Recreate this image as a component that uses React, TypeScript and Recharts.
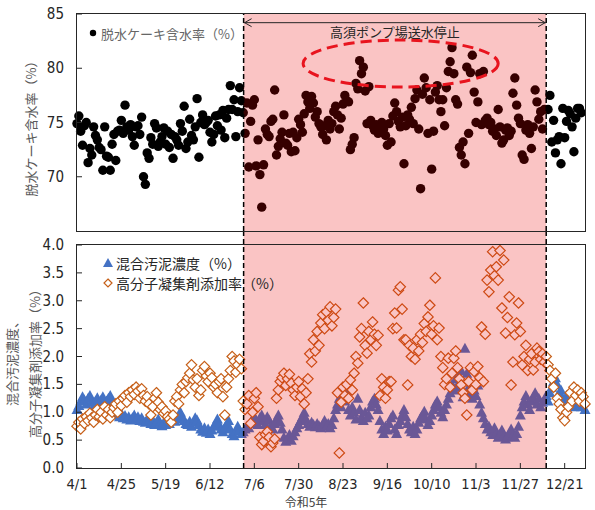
import React from 'react';
import {
  ScatterChart,
  Scatter,
  XAxis,
  YAxis,
  ReferenceArea,
  ReferenceLine,
  Legend,
} from 'recharts';

// x = days since 4/1 (令和5年)
const tickDays = [0, 24, 48, 72, 96, 120, 144, 168, 192, 216, 240, 264];
const tickLabels = ['4/1', '4/25', '5/19', '6/12', '7/6', '7/30', '8/23', '9/16', '10/10', '11/3', '11/27', '12/21'];
const dayDomain = [0, 275];

// 高須ポンプ場送水停止 (start / end day)
const stopPeriod = [90.2, 254];

const cakeDomain = [65, 85];
const cakeTicks = [65, 70, 75, 80, 85];
const sludgeDomain = [0, 4];
const sludgeTicks = [0, 0.5, 1, 1.5, 2, 2.5, 3, 3.5, 4];

const CAKE_NAME = '脱水ケーキ含水率（%）';
const SLUDGE_NAME = '混合汚泥濃度（%）';
const POLYMER_NAME = '高分子凝集剤添加率（%）';

// daily values, index = day, null = no record
const cakeMoisture: (number | null)[] = [
  74.9, 75.6, 74.2, 72.9, 74.7, 75.0, 71.3, 72.6, 72.0, 74.6,
  73.8, 73.4, 72.7, 72.5, 70.6, 74.6, 71.9, 71.8, 70.6, 73.0,
  73.9, 71.5, 74.2, 74.3, 75.2, 74.0, 76.6, 74.6, 74.3, 74.8,
  73.7, 72.9, 74.6, 74.7, 73.9, 75.5, 70.0, 69.3, 72.2, 71.7,
  73.6, 73.0, 74.9, 74.5, 72.8, 73.2, 73.7, 74.5, 73.0, 74.2,
  72.7, 73.9, 71.7, 73.7, 73.4, 72.9, 74.9, 74.2, 76.5, 72.6,
  73.2, 75.3, 73.8, 73.4, 74.6, 77.2, 71.8, 75.0, 75.7, 74.8,
  75.0, 75.2, 74.1, 73.2, 73.9, 75.6, 74.7, 75.7, 74.3, 76.1,
  73.6, 75.4, 76.2, 78.4, 76.2, 77.1, 73.7, 76.0, 78.2, 77.0,
  75.9, 74.0, 76.8, 70.9, 75.1, 76.6, 77.1, 71.0, 73.4, 70.2,
  67.2, 71.1, 74.4, 73.9, 73.7, 75.1, 75.3, 78.0, 72.0, 72.8,
  73.5, 74.1, 75.7, 73.1, 72.9, 74.0, 72.3, 74.1, 72.4, 73.6,
  75.3, 74.8, 74.1, 75.8, 77.5, 76.9, 76.3, 77.4, 76.8, 75.5,
  76.0, 74.9, 74.6, 73.9, 74.7, 73.4, 75.2, 74.4, 74.9, 76.0,
  76.5, 75.7, 74.4, 75.4, 76.7, 77.5, 77.0, 76.9, 72.5, 73.0,
  73.6, 78.6, 78.1, 80.7, 79.5, 80.1, 77.9, 74.9, 78.3, 75.2,
  74.7, 74.3, 74.8, 74.0, 74.6, 75.0, 74.4, 73.8, 72.9, 74.9,
  73.2, 75.6, 76.8, 76.0, 75.1, 74.6, 75.5, 71.2, 74.7, 75.7,
  75.3, 76.4, 74.9, 77.2, 78.0, 74.4, 68.9, 77.6, 79.1, 78.2,
  74.0, 77.1, 70.7, 74.2, 77.8, 78.4, 77.1, 76.0, 77.1, 74.7,
  78.2, 79.7, 80.6, 81.9, 79.5, 77.1, 76.7, 72.7, 72.0, 73.2,
  71.2, 80.1, 74.0, 79.6, 81.2, 77.8, 75.0, 76.9, 79.5, 74.8,
  79.7, 75.2, 75.4, 74.8, 75.0, 74.2, 74.4, 73.8, 76.2, 74.6,
  73.1, 73.4, 74.3, 74.5, 73.8, 74.2, 77.7, 79.1, 76.6, 75.4,
  74.9, 72.0, 71.6, 74.3, 74.8, 74.0, 72.6, 74.6, 78.0, 76.9,
  75.3, 76.0, 74.4, 76.2, null, 76.2, 77.5, 73.2, 75.2, 72.2,
  73.4, 73.7, 71.2, 76.3, 73.6, 75.1, 76.1, 75.8, 74.6, 72.3,
  75.4, 76.3, 76.3, 75.9,
];

const mixedSludge: (number | null)[] = [
  1.05, 1.12, 1.20, 1.28, 1.22, 1.15, 1.25, 1.30, 1.18, 1.10,
  1.20, 1.26, 1.15, 1.22, 1.28, 1.12, 1.20, 1.25, 1.30, 1.18,
  1.08, 1.00, 0.95, 0.92, 0.98, 0.90, 0.94, 0.88, 0.92, 0.86,
  0.90, 0.95, 0.88, 0.92, 0.85, 0.90, 0.84, 0.82, 0.88, 0.85,
  0.80, 0.86, 0.78, 0.82, 0.88, 0.80, 0.76, 0.82, 0.78, 0.84,
  0.80, 0.86, 0.90, 0.84, 0.88, 0.95, 1.00, 0.92, 0.85, 0.80,
  0.78, 0.84, 0.75, 0.82, 0.90, 0.86, 0.78, 0.70, 0.66, 0.72,
  0.64, 0.70, 0.62, 0.68, 0.75, 0.80, 0.88, 0.78, 0.70, 0.65,
  0.72, 0.78, 0.85, 0.70, 0.62, 0.58, 0.66, 0.75, 0.68, 0.62,
  0.65, 0.70, 0.75, 0.72, 0.80, 0.88, 0.92, 0.85, 0.78, 0.90,
  0.95, 0.85, 0.78, 0.92, 0.86, 0.75, 0.70, 0.80, 0.88, 0.95,
  0.82, 0.70, 0.55, 0.48, 0.52, 0.60, 0.50, 0.58, 0.65, 0.72,
  0.78, 0.85, 0.92, 1.00, 0.88, 0.80, 0.75, 0.82, 0.78, 0.74,
  0.80, 0.76, 0.72, 0.78, 0.85, 0.75, 0.80, 0.72, 0.78, 0.90,
  1.05, 1.15, 1.25, 1.10, 1.30, 1.20, 1.35, 1.05, 0.95, 1.10,
  1.00, 0.88, 1.25, 1.05, 0.92, 0.85, 1.00, 0.90, 0.95, 1.10,
  1.20, 1.25, 1.15, 1.05, 0.85, 0.70, 0.62, 0.75, 0.68, 0.80,
  0.90, 0.95, 0.70, 0.62, 0.78, 0.85, 0.95, 1.05, 0.92, 0.80,
  0.70, 0.65, 0.75, 0.62, 0.70, 0.82, 0.90, 0.95, 1.02, 0.88,
  0.78, 0.85, 0.95, 1.05, 1.15, 1.20, 1.10, 1.00, 0.92, 1.05,
  1.15, 1.25, 1.35, 1.50, 1.40, 1.60, 1.45, 1.55, 1.75, 1.28,
  2.15, 1.70, 1.45, 1.35, 1.25, 1.40, 1.30, 1.49, 1.15, 1.00,
  0.90, 0.80, 0.70, 0.75, 0.65, 0.60, 0.72, 0.62, 0.55, 0.60,
  0.68, 0.58, 0.52, 0.56, 0.62, 0.70, 0.58, 0.55, 0.62, 0.75,
  0.95, 1.10, 1.20, 1.30, 1.15, 1.05, 1.20, 1.28, 1.35, 1.15,
  1.25, 1.10, 1.18, 1.22, 1.30, 1.20, 1.35, 1.45, 1.55, 1.62,
  1.50, 1.35, 1.40, 1.25, 1.20, 1.30, 1.25, 1.15, 1.20, 1.10,
  1.20, 1.15, 1.25, 1.10, 1.18, 1.05,
];

const polymerDose: (number | null)[] = [
  0.75, 0.82, 0.70, 0.88, 0.80, 0.92, 0.85, 0.98, 0.90, 0.82,
  0.95, 1.05, 0.92, 1.00, 0.88, 1.10, 0.95, 1.05, 0.90, 1.00,
  1.08, 1.15, 1.00, 1.20, 1.12, 1.25, 1.30, 1.18, 1.35, 1.28,
  1.40, 1.32, 1.45, 1.38, 1.25, 1.42, 1.30, 1.20, 1.28, 1.15,
  0.95, 1.10, 1.25, 1.35, 1.18, 1.05, 1.10, 0.98, 1.02, 0.92,
  0.88, 0.82, 0.95, 1.20, 1.28, 1.15, 1.40, 1.50, 1.35, 1.55,
  1.62, 1.70, 1.85, 1.58, 1.45, 1.60, 1.30, 1.40, 1.75, 1.82,
  1.65, 1.55, 1.70, 1.62, 1.45, 1.50, 1.35, 1.55, 1.60, 1.28,
  0.95, 1.45, 1.60, 1.75, 2.00, 1.92, 1.72, 1.85, 1.95, 1.78,
  1.20, 1.05, 1.15, 1.30, 0.80, 1.00, 1.25, 1.35, 1.10, 0.55,
  0.42, 0.48, 0.60, 0.65, 0.55, 0.38, 0.45, 0.52, 1.25, 1.40,
  1.55, 1.62, 1.70, 1.48, 1.60, 1.68, 1.52, 1.40, 1.30, 1.45,
  1.55, 1.28, 1.42, 1.15, 1.35, 1.60, 2.05, 1.90, 2.30, 2.10,
  2.45, 2.20, 2.60, 2.75, 2.50, 2.80, 2.65, 2.89, 2.55, 2.70,
  2.85, 1.35, 0.27, 1.18, 1.45, 1.30, 1.50, 1.25, 1.58, 1.40,
  1.70, 2.00, 1.88, 2.35, 2.50, 2.96, 2.20, 2.06, 2.45, 2.30,
  2.62, 2.40, 2.20, 2.38, 1.30, 1.60, 1.45, 1.25, 1.40, 1.55,
  1.55, 2.50, 2.78, 2.51, 3.19, 3.25, 2.85, 2.30, 2.30, 1.49,
  2.20, 2.00, 2.15, 1.95, 2.30, 2.10, 2.40, 2.25, 2.59, 2.45,
  2.71, 2.92, 2.40, 2.55, 3.41, 2.30, 2.51, 2.00, 1.80, 1.50,
  1.60, 1.97, 1.45, 1.70, 1.97, 2.10, 1.80, 1.60, 1.49, 1.35,
  1.25, 0.95, 1.55, 1.80, 1.40, 1.73, 1.50, 1.82, 1.62, 2.53,
  1.55, 2.40, 3.37, 3.16, 3.55, 3.88, 3.45, 3.61, 3.37, 3.90,
  2.87, 3.73, 2.42, 2.70, 3.07, 1.49, 1.90, 2.39, 2.60, 2.96,
  2.45, 1.85, 2.00, 2.20, 1.75, 1.95, 2.05, 1.76, 1.90, 2.15,
  2.09, 1.95, 2.05, 1.90, 2.00, 1.85, 1.75, 1.60, 1.45, 1.70,
  1.25, 1.15, 1.05, 0.90, 0.85, 1.00, 1.10, 1.35, 1.20, 1.45,
  1.30, 1.40, 1.20, 1.35, 1.28, 1.15,
];

const JP_FONT = "'Noto Sans CJK JP', sans-serif";
const NUM_FONT = "'Liberation Sans Narrow', 'DejaVu Sans Condensed', sans-serif";
const INK = '#262626';
const SLUDGE_BLUE = '#4472C4';
const POLYMER_ORANGE = '#C65F18';

// chart geometry shared by both panels and their frames
const CHART_W = 595;
const AXIS_W = 77;
const RIGHT_M = 10;
const TOP_H = 235;
const TOP_MARGIN = { top: 14, right: RIGHT_M, bottom: 4, left: 0 };
const BOTTOM_TOP = 231;
const BOTTOM_H = 279;
const BOTTOM_MARGIN = { top: 14, right: RIGHT_M, bottom: 0, left: 0 };
const X_AXIS_H = 42;
const FRAME_W = 1.5;

const toPoints = (values: (number | null)[]) =>
  values.flatMap((value, day) => (value === null ? [] : [{ day, value }]));

const cakeData = toPoints(cakeMoisture);
const sludgeData = toPoints(mixedSludge);
const polymerData = toPoints(polymerDose);

const DotShape = (p: any) => <circle cx={p.cx} cy={p.cy} r={4.7} fill="#000" />;

const TriangleShape = (p: any) => (
  <polygon
    points={`${p.cx},${p.cy - 5.5} ${p.cx - 5.5},${p.cy + 4.5} ${p.cx + 5.5},${p.cy + 4.5}`}
    fill={SLUDGE_BLUE}
  />
);

const DiamondShape = (p: any) => (
  <polygon
    points={`${p.cx},${p.cy - 5.2} ${p.cx + 5.2},${p.cy} ${p.cx},${p.cy + 5.2} ${p.cx - 5.2},${p.cy}`}
    fill="#fff"
    stroke={POLYMER_ORANGE}
    strokeWidth={1.2}
  />
);

// border around a plot area (top/left/width/height of the plot in page pixels)
const PlotFrame = ({ top, height }: { top: number; height: number }) => (
  <div
    style={{
      position: 'absolute',
      left: AXIS_W - FRAME_W / 2,
      top: top - FRAME_W / 2,
      width: CHART_W - AXIS_W - RIGHT_M + FRAME_W,
      height: height + FRAME_W,
      border: `${FRAME_W}px solid ${INK}`,
      boxSizing: 'border-box',
      pointerEvents: 'none',
    }}
  />
);

// ticks drawn inward, labels outside
const YTick = ({ x, y, payload, digits }: any) => (
  <g>
    <line x1={x} y1={y} x2={x + 5} y2={y} stroke={INK} />
    <text x={x - 13} y={y} dy={5} textAnchor="end" fill={INK} fontSize={15} fontFamily={NUM_FONT}>
      {Number(payload.value).toFixed(digits)}
    </text>
  </g>
);

const XTick = ({ x, y, payload }: any) => (
  <g>
    <line x1={x} y1={y} x2={x} y2={y - 5} stroke={INK} />
    <text x={x} y={y + 21} textAnchor="middle" fill={INK} fontSize={14.5} fontFamily={NUM_FONT}>
      {tickLabels[tickDays.indexOf(payload.value)]}
    </text>
  </g>
);

const AxisTitle = ({ viewBox, lines, baseX, shiftY }: any) => {
  const vb = viewBox ?? { y: 0, height: 0 };
  const midY = vb.y + vb.height / 2 + shiftY;
  return (
    <text
      transform={`rotate(-90, ${baseX}, ${midY})`}
      textAnchor="middle"
      fill="#595959"
      fontSize={13}
      fontFamily={JP_FONT}
    >
      {lines.map((line: string, i: number) => (
        <tspan key={line} x={baseX} y={midY + i * 23}>
          {line}
        </tspan>
      ))}
    </text>
  );
};

const XTitle = ({ viewBox }: any) => {
  const vb = viewBox ?? { x: 0, y: 0, width: 0 };
  return (
    <text x={vb.x + vb.width / 2 - 25} y={vb.y + 39} textAnchor="middle" fill="#404040" fontSize={12} fontFamily={JP_FONT}>
      令和5年
    </text>
  );
};

const markerFor = (name: string) => {
  if (name === SLUDGE_NAME) return <polygon points="6,1 1,10 11,10" fill={SLUDGE_BLUE} />;
  if (name === POLYMER_NAME) return <polygon points="6,2 10,6 6,10 2,6" fill="#fff" stroke={POLYMER_ORANGE} strokeWidth={1.2} />;
  return <circle cx={6} cy={6} r={3.2} fill="#000" />;
};

const legendContent = (color: string, fontSize: number) => (props: any) => (
  <div style={{ fontFamily: JP_FONT, fontSize, color }}>
    {(props.payload ?? []).map((entry: any) => (
      <div key={entry.value} style={{ display: 'flex', alignItems: 'center', height: 20, whiteSpace: 'nowrap' }}>
        <svg width={12} height={12}>{markerFor(entry.value)}</svg>
        <span style={{ marginLeft: 2 }}>{entry.value}</span>
      </div>
    ))}
  </div>
);

// arrow spanning the stop period, with its caption underneath
const PeriodArrow = (p: any) => {
  const { x1, y1, x2 } = p;
  return (
    <g>
      <line x1={x1} y1={y1} x2={x2} y2={y1} stroke={INK} strokeWidth={1} />
      <polyline points={`${x1 + 8},${y1 - 4} ${x1 + 1},${y1} ${x1 + 8},${y1 + 4}`} fill="none" stroke={INK} />
      <polyline points={`${x2 - 8},${y1 - 4} ${x2 - 1},${y1} ${x2 - 8},${y1 + 4}`} fill="none" stroke={INK} />
      <text x={(x1 + x2) / 2} y={y1 + 14} textAnchor="middle" fill={INK} fontSize={13} fontFamily={JP_FONT}>
        高須ポンプ場送水停止
      </text>
    </g>
  );
};

const EllipseShape = (p: any) => (
  <ellipse
    cx={p.x + p.width / 2}
    cy={p.y + p.height / 2}
    rx={p.width / 2}
    ry={p.height / 2}
    fill="none"
    stroke="#E8141E"
    strokeWidth={3}
    strokeDasharray="11 6"
  />
);

const App = () => (
  <div style={{ position: 'absolute', left: 0, top: 0, width: CHART_W, height: 510, background: '#fff' }}>
    <div style={{ position: 'absolute', left: 0, top: 0 }}>
      <ScatterChart width={CHART_W} height={TOP_H} margin={TOP_MARGIN}>
        <XAxis type="number" dataKey="day" domain={dayDomain} hide />
        <YAxis
          type="number"
          dataKey="value"
          domain={cakeDomain}
          ticks={cakeTicks}
          width={AXIS_W}
          tickSize={0}
          tickMargin={0}
          tickLine={false}
          axisLine={false}
          tick={<YTick digits={0} />}
          label={<AxisTitle lines={[CAKE_NAME]} baseX={35.5} shiftY={3} />}
        />
        <Scatter name={CAKE_NAME} data={cakeData} fill="#000" shape={DotShape} isAnimationActive={false} />
        <ReferenceArea x1={stopPeriod[0]} x2={stopPeriod[1]} y1={65} y2={85} fill="#EB0000" fillOpacity={0.23} stroke="none" zIndex={700} />
        <ReferenceLine x={stopPeriod[0]} stroke="#000" strokeWidth={1.5} strokeDasharray="5 3" zIndex={710} />
        <ReferenceLine x={stopPeriod[1]} stroke="#000" strokeWidth={1.5} strokeDasharray="5 3" zIndex={710} />
        <ReferenceArea x1={122.4} x2={228} y1={78.27} y2={82.6} shape={EllipseShape} zIndex={720} />
        <ReferenceLine
          segment={[{ x: stopPeriod[0], y: 84.2 }, { x: stopPeriod[1], y: 84.2 }]}
          shape={PeriodArrow}
          zIndex={720}
        />
        <Legend
          layout="vertical"
          align="center"
          verticalAlign="middle"
          wrapperStyle={{ left: 87, top: 23, width: 'auto', height: 'auto' }}
          content={legendContent('#666', 13)}
        />
      </ScatterChart>
    </div>
    <div style={{ position: 'absolute', left: 0, top: BOTTOM_TOP }}>
      <ScatterChart width={CHART_W} height={BOTTOM_H} margin={BOTTOM_MARGIN}>
        <XAxis
          type="number"
          dataKey="day"
          domain={dayDomain}
          ticks={tickDays}
          interval={0}
          height={X_AXIS_H}
          tickSize={0}
          tickMargin={0}
          tickLine={false}
          axisLine={false}
          tick={<XTick />}
          label={<XTitle />}
        />
        <YAxis
          type="number"
          dataKey="value"
          domain={sludgeDomain}
          ticks={sludgeTicks}
          width={AXIS_W}
          tickSize={0}
          tickMargin={0}
          tickLine={false}
          axisLine={false}
          tick={<YTick digits={1} />}
          label={<AxisTitle lines={['混合汚泥濃度、', POLYMER_NAME]} baseX={16.5} shiftY={4} />}
        />
        <Scatter name={SLUDGE_NAME} data={sludgeData} fill={SLUDGE_BLUE} shape={TriangleShape} isAnimationActive={false} />
        <Scatter name={POLYMER_NAME} data={polymerData} fill={POLYMER_ORANGE} shape={DiamondShape} isAnimationActive={false} />
        <ReferenceArea
          x1={stopPeriod[0]}
          x2={stopPeriod[1]}
          y1={0}
          y2={4.25}
          ifOverflow="visible"
          fill="#EB0000"
          fillOpacity={0.23}
          stroke="none"
          zIndex={700}
        />
        {stopPeriod.map((day) => (
          <ReferenceLine
            key={day}
            segment={[{ x: day, y: 0 }, { x: day, y: 4.25 }]}
            ifOverflow="visible"
            stroke="#000"
            strokeWidth={1.5}
            strokeDasharray="5 3"
            zIndex={710}
          />
        ))}
        <Legend
          layout="vertical"
          align="center"
          verticalAlign="middle"
          wrapperStyle={{ left: 102, top: 22, width: 'auto', height: 'auto' }}
          content={legendContent('#262626', 14)}
        />
      </ScatterChart>
    </div>
    <PlotFrame top={TOP_MARGIN.top} height={TOP_H - TOP_MARGIN.top - TOP_MARGIN.bottom} />
    <PlotFrame
      top={BOTTOM_TOP + BOTTOM_MARGIN.top}
      height={BOTTOM_H - BOTTOM_MARGIN.top - BOTTOM_MARGIN.bottom - X_AXIS_H}
    />
  </div>
);

export default App;
